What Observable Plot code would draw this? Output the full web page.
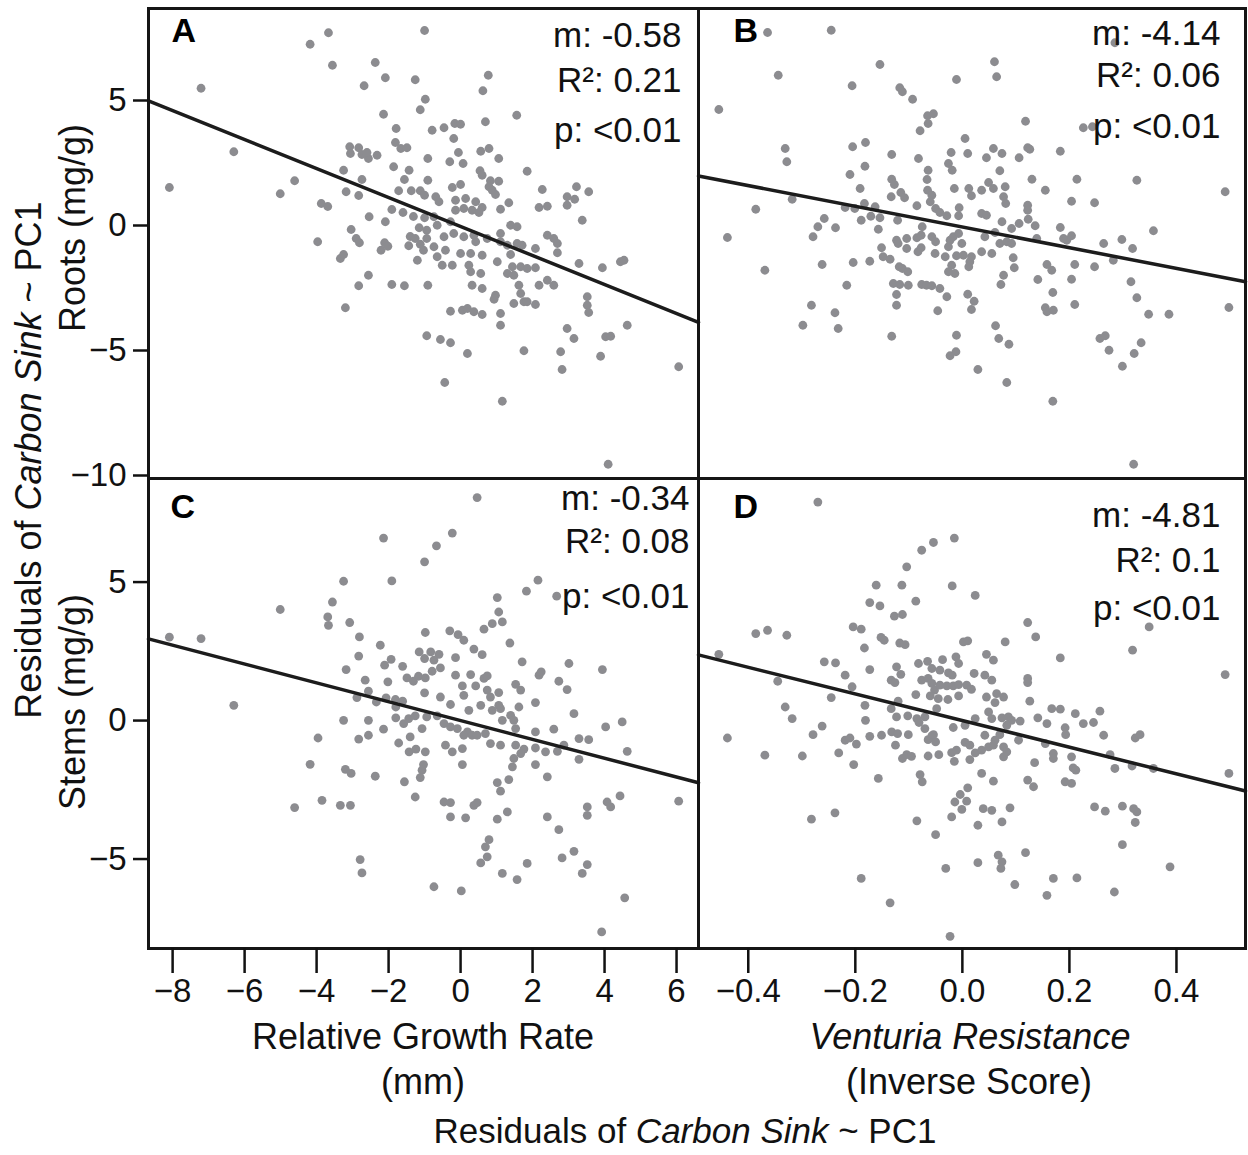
<!DOCTYPE html>
<html><head><meta charset="utf-8">
<script src="https://cdn.jsdelivr.net/npm/d3@7"></script>
<script src="https://cdn.jsdelivr.net/npm/@observablehq/plot@0.6"></script>
<style>
html,body{margin:0;padding:0;background:#fff;}
#wrap{position:relative;width:1248px;height:1155px;overflow:hidden;font-family:"Liberation Sans",Arial,Helvetica,sans-serif;color:#111;background:#fff;}
#wrap svg{position:absolute;left:0;top:0;}
.lbl{position:absolute;white-space:nowrap;font-size:36px;line-height:1.1;transform:translate(-50%,-50%);}
.vlbl{position:absolute;white-space:nowrap;font-size:36px;line-height:1.1;transform:translate(-50%,-50%) rotate(-90deg);}
</style></head><body><div id="wrap"></div>
<script>
// ---------------- data ----------------
const panelLetters = ["A", "B", "C", "D"];
const statsM = ["m: -0.58", "m: -4.14", "m: -0.34", "m: -4.81"];
const statsR2 = ["R\u00b2: 0.21", "R\u00b2: 0.06", "R\u00b2: 0.08", "R\u00b2: 0.1"];
const statsP = ["p: <0.01", "p: <0.01", "p: <0.01", "p: <0.01"];
const fitSlope = [-0.58, -4.14, -0.34, -4.81];
const fitIntercept = [-0.04, -0.06, 0.0, 0.0];
const growthTicks = [-8, -6, -4, -2, 0, 2, 4, 6];
const venturiaTicks = [-0.4, -0.2, 0.0, 0.2, 0.4];
const rootsTicks = [5, 0, -5, -10];
const stemsTicks = [5, 0, -5];
const growthDomain = [-8.67, 6.61];
const venturiaDomain = [-0.493, 0.529];
const rootsDomain = [-10.12, 8.68];
const stemsDomain = [-8.23, 8.74];

// Panel A: Roots residuals vs Relative Growth Rate
const pointsA = [[-3.67,7.71],[-4.18,7.25],[-3.56,6.41],[-2.37,6.52],[-2.09,5.91],[-2.68,5.59],[-1.26,5.83],[-1.00,7.80],[-7.21,5.49],[-0.98,5.05],[-1.12,4.63],[-2.14,4.45],[-1.79,3.88],[-1.81,3.32],[-1.66,3.08],[-1.49,3.11],[-3.08,3.15],[-2.83,3.11],[-3.06,2.88],[-2.74,2.84],[-2.56,2.68],[-2.32,2.81],[-2.60,2.92],[-6.30,2.95],[-0.91,2.68],[-3.25,2.21],[-1.86,2.35],[-1.43,2.21],[-2.74,1.84],[-1.56,1.84],[-0.91,1.81],[-8.09,1.52],[-4.61,1.79],[-5.01,1.27],[-3.18,1.35],[-2.83,1.20],[-1.72,1.39],[-1.37,1.39],[-1.12,1.39],[-1.00,1.21],[-3.87,0.88],[-3.69,0.76],[-1.91,0.64],[-1.60,0.52],[-1.31,0.36],[-1.00,0.31],[-2.54,0.35],[-2.09,0.15],[-3.04,-0.16],[-1.15,-0.09],[-0.94,-0.19],[-2.90,-0.52],[-2.81,-0.69],[-3.97,-0.65],[-1.40,-0.44],[-1.26,-0.52],[-1.44,-0.81],[-1.12,-0.75],[-1.03,-0.99],[-0.94,-0.52],[-2.21,-0.99],[-2.11,-0.69],[-2.02,-0.83],[-3.34,-1.32],[-3.25,-1.16],[-1.20,-1.39],[-2.56,-1.99],[-2.83,-2.41],[-1.91,-2.36],[-1.56,-2.41],[-0.91,-2.39],[-3.20,-3.29],[-0.94,-4.41],
[0.77,6.01],[0.62,5.39],[1.56,4.41],[0.69,4.15],[-0.16,4.08],[0.00,4.05],[-0.46,3.91],[-0.79,3.81],[-0.19,3.48],[-0.06,2.92],[-0.30,2.55],[0.07,2.48],[0.56,2.97],[0.79,3.08],[1.06,2.68],[1.85,2.17],[0.54,2.19],[0.60,2.01],[0.83,1.79],[1.06,1.77],[0.79,1.55],[0.88,1.41],[0.97,1.24],[0.00,1.64],[-0.23,1.52],[2.27,1.44],[3.22,1.55],[3.56,1.35],[2.96,1.15],[3.17,1.05],[2.18,0.72],[2.41,0.77],[2.96,0.81],[3.38,0.21],[-0.69,1.15],[-0.60,0.95],[-0.14,1.01],[0.14,1.08],[0.42,0.95],[0.60,0.72],[0.32,0.61],[0.51,0.52],[1.11,0.65],[1.34,0.91],[-0.14,0.61],[0.09,0.68],[-0.74,0.35],[-0.65,0.01],[-0.28,0.15],[-0.46,-0.45],[-0.19,-0.32],[0.09,-0.45],[0.37,-0.39],[0.42,-0.65],[0.74,-0.52],[1.11,-0.32],[1.39,0.01],[1.57,-0.05],[2.41,-0.39],[2.59,-0.52],[2.69,-0.72],[2.08,-0.92],[1.57,-0.72],[1.71,-0.79],[1.11,-0.65],[1.30,-0.79],[-0.74,-0.85],[-0.42,-0.99],[-0.65,-1.25],[0.00,-1.12],[0.28,-1.12],[0.60,-1.19],[1.02,-1.45],[1.39,-1.16],[1.44,-1.65],[1.67,-1.65],[1.85,-1.72],[2.08,-1.69],[-0.51,-1.59],[-0.23,-1.59],[0.23,-1.59],[0.28,-1.85],[0.56,-1.92],[1.30,-1.92],[1.48,-1.99],[2.69,-1.09],[3.29,-1.52],[3.94,-1.69],[4.44,-1.45],[4.54,-1.39],[0.32,-2.39],[0.60,-2.52],[0.97,-2.79],[0.93,-2.95],[1.62,-2.39],[1.67,-2.72],[1.76,-3.05],[2.18,-2.39],[2.41,-2.19],[2.59,-2.39],[1.48,-3.12],[2.08,-3.16],[1.85,-3.05],[-0.28,-3.43],[0.05,-3.39],[0.19,-3.32],[0.37,-3.45],[0.60,-3.56],[1.11,-3.52],[1.11,-3.99],[3.52,-2.85],[3.52,-3.19],[3.56,-3.48],[-0.56,-4.56],[-0.28,-4.69],[0.19,-5.12],[1.76,-5.01],[2.78,-5.05],[2.82,-5.76],[2.96,-4.12],[3.15,-4.52],[4.03,-4.45],[4.17,-4.43],[4.63,-3.99],[3.89,-5.23],[6.06,-5.65],[-0.44,-6.28],[1.16,-7.03],[4.10,-9.55]];

// Panel B: Roots residuals vs Venturia Resistance
const pointsB = [[-0.364,7.72],[-0.245,7.81],[-0.154,6.44],[-0.344,6.01],[-0.206,5.59],[-0.011,5.84],[-0.455,4.64],[-0.117,5.51],[-0.112,5.35],[-0.093,5.05],[-0.065,4.39],[-0.054,4.47],[-0.064,4.08],[-0.079,3.79],[-0.331,3.08],[-0.328,2.55],[-0.205,3.15],[-0.181,3.32],[-0.182,2.37],[-0.132,2.84],[-0.082,2.68],[-0.021,2.92],[0.005,3.48],[0.010,2.88],[-0.026,2.48],[-0.019,2.21],[-0.210,2.04],[-0.064,2.21],[-0.066,1.84],[-0.132,1.85],[-0.127,1.64],[-0.015,1.48],[0.012,1.48],[-0.191,1.48],[-0.133,1.15],[-0.115,1.32],[-0.108,1.11],[-0.065,1.41],[-0.057,1.21],[-0.060,0.95],[-0.050,0.68],[-0.042,0.52],[-0.029,0.39],[-0.006,0.71],[-0.007,0.39],[0.017,1.19],[-0.318,1.05],[-0.386,0.65],[-0.219,0.72],[-0.201,0.68],[-0.183,0.88],[-0.163,0.75],[-0.171,0.37],[-0.154,0.31],[-0.085,0.79],[-0.189,0.21],[-0.258,0.28],[-0.270,-0.05],[-0.237,-0.09],[-0.279,-0.45],[-0.157,-0.15],[-0.121,0.21],[-0.075,-0.05],[-0.439,-0.48],[-0.123,-0.59],[-0.120,-0.72],[-0.104,-0.52],[-0.104,-0.92],[-0.085,-0.49],[-0.077,-0.39],[-0.083,-1.05],[-0.077,-0.89],[-0.057,-0.45],[-0.050,-0.65],[-0.051,-1.12],[-0.023,-0.59],[-0.017,-0.45],[-0.007,-0.32],[-0.001,-0.72],[-0.026,-0.85],[-0.011,-1.21],[0.002,-1.19],[0.014,-1.45],[0.012,-1.65],[-0.032,-1.25],[-0.020,-1.59],[-0.014,-1.92],[-0.026,-1.85],[-0.151,-0.89],[-0.148,-1.25],[-0.135,-1.35],[-0.118,-1.65],[-0.112,-1.72],[-0.102,-1.85],[-0.369,-1.79],[-0.262,-1.56],[-0.204,-1.48],[-0.173,-1.43],[-0.216,-2.39],[-0.129,-2.32],[-0.117,-2.36],[-0.101,-2.39],[-0.076,-2.36],[-0.067,-2.39],[-0.057,-2.41],[-0.042,-2.52],[-0.029,-2.85],[-0.123,-2.76],[-0.123,-3.19],[0.010,-2.75],[0.022,-3.03],[0.017,-3.36],[-0.046,-3.41],[-0.282,-3.19],[-0.238,-3.49],[-0.298,-3.99],[-0.232,-4.12],[-0.132,-4.43],[-0.011,-4.39],[-0.012,-5.05],[-0.023,-5.21],[0.029,-5.76],
[0.285,7.31],[0.060,6.55],[0.064,5.95],[0.118,4.17],[0.226,3.91],[0.243,3.95],[0.045,2.71],[0.058,3.08],[0.074,2.88],[0.106,2.71],[0.122,3.11],[0.126,3.05],[0.183,2.97],[0.070,2.19],[0.130,1.85],[0.155,1.41],[0.214,1.85],[0.326,1.81],[0.491,1.35],[0.036,1.41],[0.049,1.72],[0.058,1.48],[0.080,1.55],[0.077,1.15],[0.081,0.88],[0.122,0.81],[0.122,0.61],[0.204,0.97],[0.247,0.91],[0.036,0.48],[0.045,0.41],[0.074,0.15],[0.092,-0.12],[0.106,0.08],[0.123,0.25],[0.136,-0.01],[0.183,-0.08],[0.189,-0.52],[0.195,-0.59],[0.204,-0.41],[0.042,-0.45],[0.061,-0.28],[0.070,-0.72],[0.083,-0.65],[0.092,-0.72],[0.139,-0.52],[0.264,-0.72],[0.298,-0.56],[0.318,-0.92],[0.357,-0.21],[0.017,-1.25],[0.036,-1.05],[0.055,-1.12],[0.095,-1.29],[0.097,-1.69],[0.077,-1.99],[0.072,-2.36],[0.158,-1.56],[0.167,-1.79],[0.210,-1.56],[0.247,-1.65],[0.282,-1.39],[0.141,-2.16],[0.204,-2.15],[0.315,-2.25],[0.169,-2.68],[0.326,-2.89],[0.210,-3.16],[0.155,-3.29],[0.158,-3.45],[0.170,-3.39],[0.348,-3.55],[0.386,-3.55],[0.498,-3.28],[0.062,-4.01],[0.068,-4.52],[0.087,-4.75],[0.257,-4.52],[0.267,-4.41],[0.274,-4.99],[0.321,-5.12],[0.334,-4.69],[0.299,-5.63],[0.083,-6.28],[0.169,-7.03],[0.320,-9.55]];

// Panel C: Stems residuals vs Relative Growth Rate
const pointsC = [[-2.14,6.59],[-1.00,5.73],[-3.25,5.03],[-1.91,5.04],[-3.56,4.28],[-5.01,4.01],[-3.69,3.74],[-3.67,3.44],[-3.08,3.54],[-8.09,3.01],[-7.21,2.96],[-2.81,3.02],[-2.83,2.33],[-2.23,2.72],[-1.93,2.21],[-2.11,2.00],[-1.61,1.96],[-3.18,1.84],[-1.49,1.54],[-1.31,1.42],[-1.17,1.60],[-0.98,1.54],[-1.15,2.48],[-1.00,2.24],[-0.98,3.18],[-2.65,1.46],[-2.56,1.06],[-2.02,1.40],[-2.88,0.83],[-2.34,0.67],[-2.07,0.82],[-1.81,0.76],[-1.61,0.70],[-1.00,1.00],[-6.30,0.55],[-3.25,0.01],[-2.56,0.01],[-2.14,-0.31],[-1.80,0.49],[-1.80,0.10],[-1.58,-0.11],[-1.44,0.07],[-1.26,0.17],[-1.07,-0.29],[-0.94,0.13],[-3.96,-0.63],[-2.83,-0.67],[-2.56,-0.53],[-1.72,-0.81],[-1.40,-0.59],[-1.43,-1.13],[-1.24,-1.03],[-0.98,-1.13],[-1.03,-1.59],[-1.07,-1.79],[-1.12,-2.06],[-4.18,-1.58],[-3.20,-1.76],[-3.04,-1.91],[-2.37,-2.01],[-1.56,-2.21],[-1.26,-2.76],[-4.61,-3.14],[-3.85,-2.88],[-3.34,-3.06],[-3.06,-3.06],[-2.79,-5.02],[-2.74,-5.50],
[0.46,8.05],[-0.23,6.77],[-0.67,6.31],[1.83,4.67],[2.15,5.07],[2.67,4.49],[1.02,4.44],[1.06,3.92],[0.88,3.50],[1.16,3.56],[0.65,3.30],[1.37,2.80],[-0.30,3.24],[-0.07,3.10],[0.09,2.90],[0.37,2.58],[0.60,2.38],[-0.14,2.27],[-0.60,2.39],[-0.83,2.48],[-0.74,2.18],[-0.56,1.90],[-0.79,1.78],[1.71,2.12],[3.01,2.06],[3.94,1.84],[2.18,1.64],[2.24,1.76],[2.73,1.42],[2.96,1.12],[-0.14,1.64],[0.28,1.66],[0.65,1.52],[0.74,1.61],[0.05,1.25],[0.42,1.25],[0.74,1.10],[0.83,0.85],[1.06,1.01],[1.53,1.31],[1.67,1.10],[1.06,0.55],[-0.56,0.85],[-0.28,0.58],[0.09,0.91],[0.23,0.37],[0.56,0.55],[0.88,0.37],[1.11,0.43],[1.39,0.19],[1.62,0.49],[2.08,0.65],[3.15,0.25],[-0.65,0.17],[-0.46,-0.11],[-0.28,-0.23],[-0.09,-0.29],[0.19,-0.41],[0.32,-0.53],[0.46,-0.53],[0.69,-0.47],[1.16,0.01],[1.48,0.01],[1.53,-0.29],[0.83,-0.83],[1.11,-0.89],[0.09,-0.53],[0.05,-1.01],[-0.42,-0.89],[-0.23,-1.13],[2.08,-0.41],[2.59,-0.31],[3.29,-0.65],[3.56,-0.69],[4.03,-0.23],[4.49,-0.05],[4.63,-1.11],[1.53,-0.89],[1.76,-1.03],[1.67,-1.19],[2.08,-0.99],[2.36,-1.13],[2.69,-1.11],[2.87,-0.89],[3.29,-1.40],[1.48,-1.37],[1.44,-1.67],[2.08,-1.59],[2.41,-2.03],[0.05,-1.59],[1.02,-2.24],[1.11,-2.55],[1.34,-2.13],[0.46,-2.96],[0.37,-3.06],[-0.46,-2.94],[-0.28,-2.96],[-0.28,-3.48],[0.14,-3.51],[1.02,-3.56],[1.30,-3.30],[2.41,-3.48],[2.73,-3.94],[3.52,-3.12],[3.52,-3.42],[4.07,-2.94],[4.17,-3.12],[4.43,-2.72],[6.06,-2.91],[0.79,-4.30],[0.69,-4.56],[0.74,-4.92],[0.56,-5.14],[1.85,-5.16],[2.82,-4.96],[3.15,-4.72],[3.52,-5.20],[3.38,-5.52],[1.16,-5.52],[1.57,-5.74],[-0.74,-6.00],[0.02,-6.15],[4.56,-6.40],[3.92,-7.63]];

// Panel D: Stems residuals vs Venturia Resistance
const pointsD = [[-0.270,7.89],[-0.015,6.59],[-0.054,6.43],[-0.076,6.15],[-0.104,5.55],[-0.161,4.89],[-0.113,4.89],[-0.019,4.86],[0.024,4.52],[-0.173,4.26],[-0.154,4.14],[-0.087,4.31],[-0.127,3.77],[-0.112,3.83],[-0.204,3.38],[-0.189,3.30],[-0.386,3.14],[-0.364,3.26],[-0.328,3.08],[-0.152,3.00],[-0.146,2.90],[-0.183,2.62],[-0.117,2.80],[-0.107,2.74],[0.002,2.84],[0.010,2.88],[-0.455,2.39],[-0.258,2.12],[-0.237,2.08],[-0.173,1.84],[-0.082,2.06],[-0.065,2.14],[-0.037,2.20],[-0.012,2.30],[-0.007,2.06],[-0.057,1.88],[-0.042,1.82],[-0.026,1.72],[-0.019,1.64],[-0.123,1.94],[-0.115,1.67],[0.022,1.70],[-0.219,1.64],[-0.206,1.22],[-0.133,1.46],[-0.126,1.37],[-0.345,1.42],[-0.076,1.46],[-0.064,1.52],[-0.057,1.34],[-0.052,1.10],[-0.042,1.28],[-0.029,1.25],[-0.017,1.25],[-0.007,1.30],[0.008,1.28],[0.017,1.13],[-0.087,0.94],[-0.060,0.89],[-0.045,0.79],[-0.027,0.76],[-0.007,0.89],[-0.245,0.83],[-0.182,0.55],[-0.133,0.43],[-0.120,0.70],[-0.123,0.13],[-0.102,0.17],[-0.085,0.07],[-0.081,-0.07],[-0.070,0.13],[-0.048,0.43],[-0.017,-0.25],[0.005,-0.17],[0.024,0.07],[-0.331,0.49],[-0.318,0.07],[-0.262,-0.20],[-0.279,-0.51],[-0.439,-0.63],[-0.219,-0.71],[-0.210,-0.63],[-0.198,-0.85],[-0.181,0.01],[-0.173,-0.57],[-0.151,-0.53],[-0.132,-0.41],[-0.121,-0.47],[-0.125,-0.89],[-0.101,-0.51],[-0.070,-0.29],[-0.064,-0.69],[-0.057,-0.55],[-0.050,-0.77],[-0.054,-0.51],[-0.369,-1.25],[-0.299,-1.28],[-0.231,-1.17],[-0.203,-1.59],[-0.112,-1.37],[-0.104,-1.23],[-0.095,-1.29],[-0.064,-1.28],[-0.044,-1.23],[-0.020,-1.16],[-0.011,-1.07],[-0.015,-1.47],[0.005,-0.79],[0.014,-0.89],[0.024,-1.17],[0.014,-1.41],[-0.157,-2.09],[-0.079,-1.95],[-0.075,-2.21],[0.010,-2.43],[-0.004,-2.67],[-0.014,-2.94],[0.008,-2.91],[-0.001,-3.21],[-0.020,-3.48],[-0.282,-3.56],[-0.238,-3.33],[-0.085,-3.62],[-0.050,-4.12],[0.029,-3.78],[0.029,-5.13],[-0.031,-5.34],[-0.189,-5.70],[-0.135,-6.58],[-0.023,-7.79],
[0.122,3.54],[0.137,3.02],[0.080,2.84],[0.045,2.39],[0.058,2.18],[0.183,2.26],[0.318,2.54],[0.349,3.38],[0.491,1.66],[0.042,1.64],[0.055,1.46],[0.122,1.52],[0.122,1.37],[0.045,0.85],[0.061,0.65],[0.077,0.85],[0.064,0.97],[0.126,0.70],[0.167,0.43],[0.183,0.41],[0.211,0.25],[0.257,0.34],[0.226,-0.11],[0.245,-0.07],[0.141,0.10],[0.158,-0.11],[0.192,-0.26],[0.193,-0.51],[0.049,0.31],[0.055,0.07],[0.074,0.10],[0.086,0.13],[0.092,0.01],[0.108,-0.02],[0.083,-0.17],[0.070,-0.51],[0.061,-0.71],[0.042,-0.53],[0.264,-0.53],[0.323,-0.63],[0.332,-0.51],[0.036,-1.07],[0.049,-0.95],[0.058,-0.89],[0.077,-0.95],[0.083,-1.13],[0.077,-1.31],[0.105,-0.71],[0.155,-0.83],[0.170,-1.19],[0.170,-1.37],[0.204,-1.31],[0.207,-1.71],[0.212,-1.79],[0.276,-1.23],[0.285,-1.73],[0.317,-1.64],[0.357,-1.73],[0.135,-1.52],[0.036,-1.91],[0.058,-2.19],[0.122,-2.15],[0.133,-2.39],[0.192,-2.21],[0.204,-2.27],[0.498,-1.91],[0.039,-3.18],[0.055,-3.24],[0.089,-3.15],[0.074,-3.66],[0.247,-3.12],[0.267,-3.27],[0.299,-3.09],[0.320,-3.18],[0.326,-3.30],[0.323,-3.68],[0.299,-4.48],[0.067,-4.86],[0.074,-5.10],[0.072,-5.34],[0.118,-4.77],[0.098,-5.92],[0.170,-5.70],[0.214,-5.68],[0.158,-6.31],[0.284,-6.19],[0.388,-5.28]];

// ---------------- drawing ----------------
const FONT = '"Liberation Sans", Arial, Helvetica, sans-serif';
const W = 1248, H = 1010;
const fmtInt = d3.format("d");
const fmt1 = d3.format(".1f");

const panels = [
  {i: 0, pts: pointsA, xDomain: growthDomain, yDomain: rootsDomain, box: [148, 698, 8, 478], yTicks: rootsTicks, xTicks: null, xFmt: fmtInt,
   letterDx: 23, letterDy: 23, statsDx: -17, statsDy: [27, 72, 122]},
  {i: 1, pts: pointsB, xDomain: venturiaDomain, yDomain: rootsDomain, box: [698, 1245, 8, 478], yTicks: null, xTicks: null, xFmt: fmt1,
   letterDx: 35, letterDy: 23, statsDx: -25, statsDy: [25, 67, 118]},
  {i: 2, pts: pointsC, xDomain: growthDomain, yDomain: stemsDomain, box: [148, 698, 478, 948], yTicks: stemsTicks, xTicks: growthTicks, xFmt: fmtInt,
   letterDx: 22, letterDy: 29, statsDx: -9, statsDy: [20, 63, 118]},
  {i: 3, pts: pointsD, xDomain: venturiaDomain, yDomain: stemsDomain, box: [698, 1245, 478, 948], yTicks: null, xTicks: venturiaTicks, xFmt: fmt1,
   letterDx: 35, letterDy: 29, statsDx: -25, statsDy: [37, 82, 130]}
];

const wrap = document.getElementById("wrap");

for (const p of panels) {
  const [l, r, t, b] = p.box;
  const fit = p.xDomain.map(x => ({x, y: fitIntercept[p.i] + fitSlope[p.i] * x}));
  const statLines = [statsM[p.i], statsR2[p.i], statsP[p.i]];
  const marks = [
    Plot.dot(p.pts, {x: d => d[0], y: d => d[1], r: 4.4, fill: "#8c8c90", stroke: "none"}),
    Plot.line(fit, {x: "x", y: "y", stroke: "#1c1c1c", strokeWidth: 3.5}),
    Plot.text([panelLetters[p.i]], {text: d => d, frameAnchor: "top-left", textAnchor: "start", lineAnchor: "middle",
      dx: p.letterDx, dy: p.letterDy, fontWeight: "bold", fontSize: 34, fill: "#000"}),
    ...statLines.map((s, k) => Plot.text([s], {text: d => d, frameAnchor: "top-right", textAnchor: "end", lineAnchor: "middle",
      dx: p.statsDx, dy: p.statsDy[k], fontSize: 35, fill: "#111"})),
    Plot.frame({stroke: "#151515", strokeWidth: 3})
  ];
  if (p.yTicks) marks.push(Plot.axisY({ticks: p.yTicks, tickFormat: fmtInt, tickSize: 15, tickPadding: 7,
    label: null, fontSize: 33, strokeWidth: 2.5}));
  if (p.xTicks) marks.push(Plot.axisX({ticks: p.xTicks, tickFormat: p.xFmt, tickSize: 25, tickPadding: 5,
    label: null, fontSize: 33, strokeWidth: 2.5}));
  const svg = Plot.plot({
    width: W, height: H,
    marginLeft: l, marginRight: W - r, marginTop: t, marginBottom: H - b,
    x: {domain: p.xDomain, axis: p.xTicks ? undefined : null},
    y: {domain: p.yDomain, axis: p.yTicks ? undefined : null},
    style: {background: "none", color: "#111", fontFamily: FONT, overflow: "visible"},
    marks
  });
  wrap.appendChild(svg);
}

function addLabel(html, cx, cy, cls, size) {
  const d = document.createElement("div");
  d.className = cls;
  d.style.left = cx + "px";
  d.style.top = cy + "px";
  if (size) d.style.fontSize = size + "px";
  d.innerHTML = html;
  wrap.appendChild(d);
}
addLabel("Relative Growth Rate", 423, 1037, "lbl");
addLabel("(mm)", 423, 1082, "lbl");
addLabel("<i>Venturia Resistance</i>", 970, 1037, "lbl");
addLabel("(Inverse Score)", 969, 1082, "lbl");
addLabel("Residuals of <i>Carbon Sink</i> ~ PC1", 685, 1131, "lbl", 35);
addLabel("Residuals of <i>Carbon Sink</i> ~ PC1", 29, 460, "vlbl");
addLabel("Roots (mg/g)", 73, 228, "vlbl");
addLabel("Stems (mg/g)", 73, 702, "vlbl");
</script></body></html>
